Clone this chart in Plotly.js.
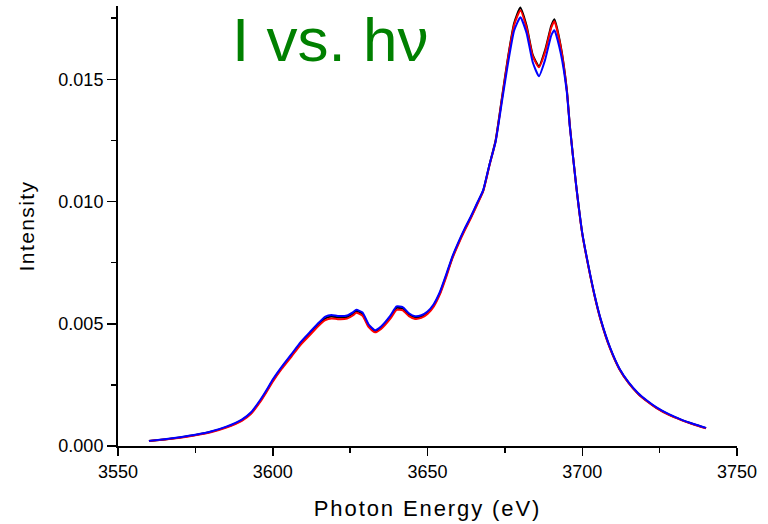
<!DOCTYPE html>
<html>
<head>
<meta charset="utf-8">
<script src="https://cdn.plot.ly/plotly-3.0.1.min.js"></script>
<style>
  html, body { margin: 0; padding: 0; background: #fff; }
  #chart { width: 768px; height: 524px; }
  text.xtitle { letter-spacing: 1.9px; }
  text.ytitle { letter-spacing: 1.4px; }
</style>
</head>
<body>
<div id="chart"></div>
<script>
// Photon energy (eV)
const energy = [3560, 3565, 3570, 3575, 3580, 3585, 3590, 3593, 3596, 3598,
  3600, 3603, 3606, 3609, 3612, 3615, 3617, 3619, 3621, 3624,
  3626, 3627, 3629, 3631, 3633, 3635, 3638, 3640, 3642, 3644,
  3646, 3648, 3650, 3652, 3654, 3656, 3658, 3660, 3662, 3664,
  3666, 3668, 3670, 3672, 3674, 3676, 3678, 3680, 3682, 3684,
  3686, 3688, 3690, 3691, 3693, 3695, 3696, 3698, 3700, 3702,
  3704, 3706, 3709, 3712, 3715, 3718, 3721, 3724, 3728, 3732,
  3736, 3740];

// Intensity, black curve
const intensityBlack = [0.00020, 0.00027, 0.00035, 0.00045, 0.00058, 0.00077, 0.00106, 0.00135, 0.00185, 0.00225,
  0.00268, 0.00322, 0.00370, 0.00420, 0.00460, 0.00500, 0.00522, 0.00530, 0.00526, 0.00528,
  0.00542, 0.00552, 0.00540, 0.00492, 0.00470, 0.00484, 0.00528, 0.00565, 0.00562, 0.00538,
  0.00526, 0.00530, 0.00545, 0.00575, 0.00625, 0.00695, 0.00770, 0.00830, 0.00885, 0.00935,
  0.00990, 0.01045, 0.01150, 0.01250, 0.01420, 0.01590, 0.01730, 0.01794, 0.01720, 0.01600,
  0.01553, 0.01620, 0.01720, 0.01746, 0.01640, 0.01460, 0.01310, 0.01070, 0.00870, 0.00735,
  0.00615, 0.00515, 0.00400, 0.00315, 0.00258, 0.00215, 0.00183, 0.00156, 0.00128, 0.00107,
  0.00089, 0.00073];

// Intensity, red curve
const intensityRed = [0.00020, 0.00027, 0.00034, 0.00044, 0.00056, 0.00075, 0.00103, 0.00132, 0.00181, 0.00221,
  0.00263, 0.00317, 0.00365, 0.00414, 0.00454, 0.00494, 0.00515, 0.00522, 0.00519, 0.00521,
  0.00535, 0.00545, 0.00533, 0.00486, 0.00465, 0.00479, 0.00521, 0.00557, 0.00555, 0.00531,
  0.00520, 0.00524, 0.00540, 0.00570, 0.00620, 0.00690, 0.00766, 0.00826, 0.00881, 0.00931,
  0.00986, 0.01042, 0.01146, 0.01247, 0.01416, 0.01585, 0.01722, 0.01783, 0.01712, 0.01595,
  0.01549, 0.01612, 0.01712, 0.01738, 0.01635, 0.01456, 0.01307, 0.01068, 0.00868, 0.00733,
  0.00613, 0.00513, 0.00398, 0.00314, 0.00257, 0.00214, 0.00182, 0.00155, 0.00127, 0.00106,
  0.00088, 0.00072];

// Intensity, blue curve
const intensityBlue = [0.00021, 0.00028, 0.00036, 0.00046, 0.00059, 0.00079, 0.00108, 0.00138, 0.00189, 0.00229,
  0.00272, 0.00326, 0.00375, 0.00425, 0.00466, 0.00506, 0.00529, 0.00536, 0.00532, 0.00534,
  0.00548, 0.00557, 0.00546, 0.00497, 0.00474, 0.00489, 0.00533, 0.00571, 0.00568, 0.00543,
  0.00531, 0.00535, 0.00550, 0.00580, 0.00630, 0.00700, 0.00774, 0.00834, 0.00889, 0.00939,
  0.00993, 0.01047, 0.01150, 0.01245, 0.01405, 0.01565, 0.01700, 0.01754, 0.01690, 0.01570,
  0.01513, 0.01580, 0.01680, 0.01701, 0.01610, 0.01450, 0.01305, 0.01070, 0.00872, 0.00737,
  0.00617, 0.00517, 0.00402, 0.00317, 0.00260, 0.00217, 0.00185, 0.00158, 0.00130, 0.00108,
  0.00090, 0.00074];

const xTickVals = [3550, 3600, 3650, 3700, 3750];
const yTickVals = [0, 0.005, 0.010, 0.015];

const titleText = 'I vs. h\u03bd';
const xTitle = 'Photon Energy (eV)';
const yTitle = 'Intensity';

const FONT = '"Liberation Sans", Arial, sans-serif';

const lineShape = { shape: 'spline', smoothing: 0.5, width: 2 };

const traces = [
  { x: energy, y: intensityBlack, mode: 'lines', line: Object.assign({ color: '#000000' }, lineShape), name: 'black' },
  { x: energy, y: intensityRed, mode: 'lines', line: Object.assign({ color: '#ff0000' }, lineShape), name: 'red' },
  { x: energy, y: intensityBlue, mode: 'lines', line: Object.assign({ color: '#0000ff' }, lineShape), name: 'blue' }
];

const layout = {
  width: 768, height: 524,
  margin: { l: 118, r: 31, t: 6, b: 78, pad: 0 },
  paper_bgcolor: '#ffffff', plot_bgcolor: '#ffffff',
  showlegend: false,
  font: { family: FONT, color: '#000000' },
  title: {
    text: titleText,
    font: { family: FONT, size: 62, color: '#008000' },
    x: 0.430, xref: 'container', xanchor: 'center',
    y: 0.966, yref: 'container', yanchor: 'top'
  },
  xaxis: {
    range: [3550, 3750],
    tickvals: xTickVals,
    ticktext: xTickVals.map(String),
    ticks: 'outside', ticklen: 8, tickwidth: 1.5, tickcolor: '#000',
    minor: { dtick: 25, tick0: 3550, ticks: 'outside', ticklen: 5, tickwidth: 1.5, tickcolor: '#000', showgrid: false },
    showline: true, linecolor: '#000', linewidth: 2,
    showgrid: false, zeroline: false,
    tickfont: { family: FONT, size: 18, color: '#000' },
    title: { text: xTitle, font: { family: FONT, size: 22, color: '#000' }, standoff: 20 }
  },
  yaxis: {
    range: [0, 0.018],
    tickvals: yTickVals,
    ticktext: yTickVals.map(v => v.toFixed(3)),
    ticks: 'outside', ticklen: 9, tickwidth: 1.5, tickcolor: '#000',
    minor: { dtick: 0.0025, tick0: 0, ticks: 'outside', ticklen: 5, tickwidth: 1.5, tickcolor: '#000', showgrid: false },
    showline: true, linecolor: '#000', linewidth: 2,
    showgrid: false, zeroline: false,
    tickfont: { family: FONT, size: 18, color: '#000' },
    title: { text: yTitle, font: { family: FONT, size: 21, color: '#000' }, standoff: 18 }
  }
};

Plotly.newPlot('chart', traces, layout, { staticPlot: true, displayModeBar: false });
</script>
</body>
</html>
